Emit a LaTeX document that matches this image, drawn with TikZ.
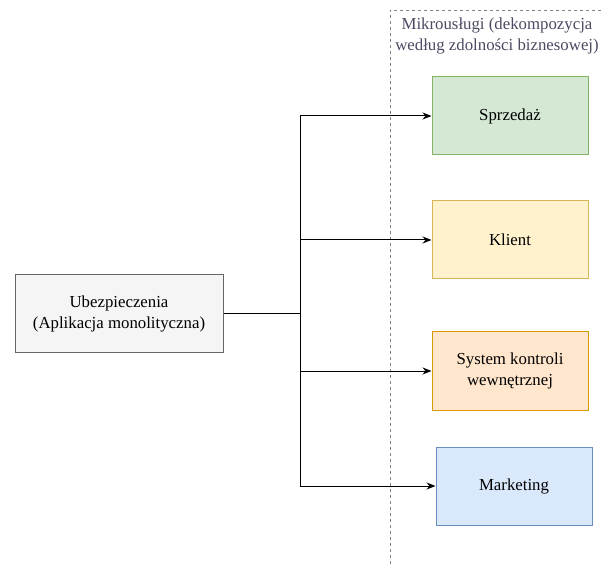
\documentclass[tikz,border=0pt]{standalone}
\usepackage{fontspec}
\setmainfont{Liberation Serif}
\usetikzlibrary{arrows.meta}
\definecolor{monofill}{HTML}{F5F5F5}
\definecolor{monoline}{HTML}{666666}
\definecolor{greenfill}{HTML}{D5E8D4}
\definecolor{greenline}{HTML}{82B366}
\definecolor{yellowfill}{HTML}{FFF2CC}
\definecolor{yellowline}{HTML}{D6B656}
\definecolor{orangefill}{HTML}{FFE6CC}
\definecolor{orangeline}{HTML}{D79B00}
\definecolor{bluefill}{HTML}{DAE8FC}
\definecolor{blueline}{HTML}{6C8EBF}
\definecolor{titletext}{HTML}{4A4A62}
\begin{document}
\begin{tikzpicture}[x=1pt,y=-1pt,
    every node/.style={font=\fontsize{16.8}{21}\selectfont, align=center},
    svc/.style={draw, line width=1pt, minimum width=156pt, minimum height=78pt},
    >={Stealth[length=9pt,width=7pt]}]
    \useasboundingbox (0,0) rectangle (603,564);

    % boundary of the microservices
    \draw[gray, dashed, line width=0.8pt] (390,564) -- (390,10) -- (603,10);
    \node[text=titletext] (title) at (497,36) {Mikrousługi (dekompozycja\\według zdolności biznesowej)};

    \node[svc, fill=monofill, draw=monoline, minimum width=208pt] (mono) at (119,314) {Ubezpieczenia\\ (Aplikacja monolityczna)};
    \node[svc, fill=greenfill, draw=greenline] (sales) at (510,116) {Sprzedaż};
    \node[svc, fill=yellowfill, draw=yellowline] (client) at (510,240) {Klient};
    \node[svc, fill=orangefill, draw=orangeline] (control) at (510,371) {System kontroli\\wewnętrznej};
    \node[svc, fill=bluefill, draw=blueline] (marketing) at (514,486) {Marketing};

    \coordinate (split) at (300,314);

    \draw[line width=1pt] (mono.east) -- (split);
    \draw[->, line width=1pt] (split) |- (sales.west);
    \draw[->, line width=1pt] (split) |- (client.west);
    \draw[->, line width=1pt] (split) |- (control.west);
    \draw[->, line width=1pt] (split) |- (marketing.west);
\end{tikzpicture}
\end{document}
